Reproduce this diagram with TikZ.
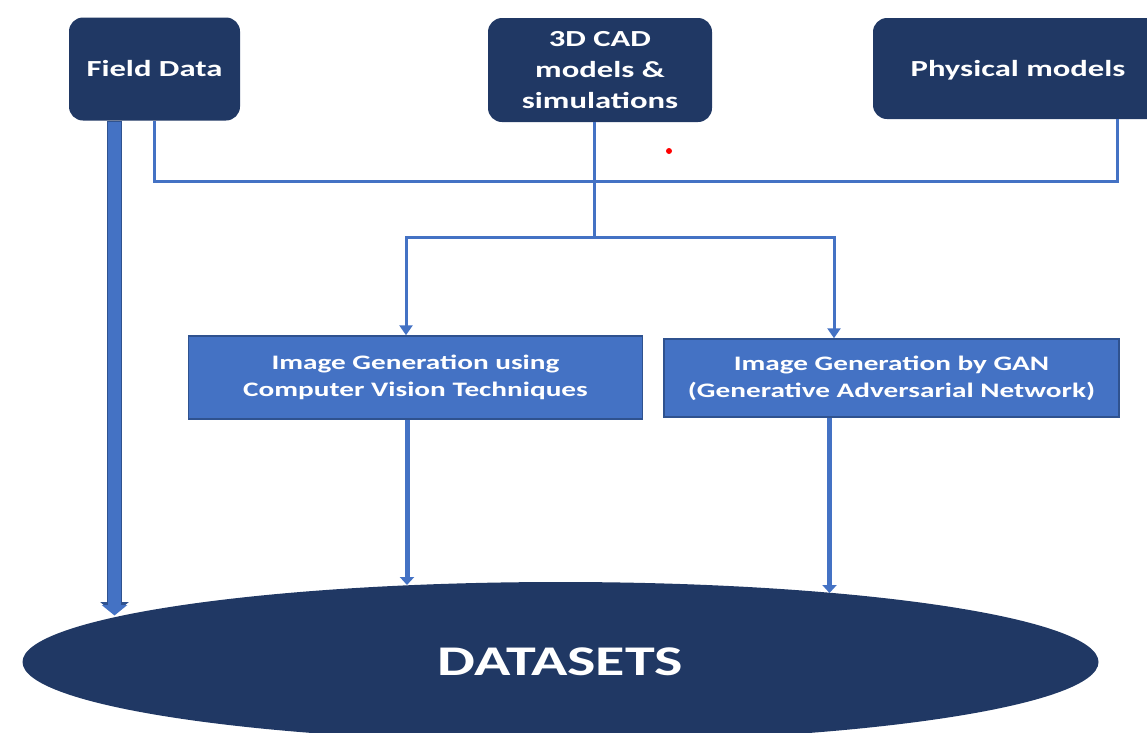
\documentclass[tikz,border=0pt]{standalone}
\usepackage{fontspec}
\setmainfont{Carlito}[FakeStretch=1.42]
\usetikzlibrary{arrows.meta,shapes.geometric}
\definecolor{navy}{HTML}{203864}
\definecolor{mblue}{HTML}{4472C4}
\definecolor{bedge}{HTML}{2F528F}
\tikzset{
  srcbox/.style={fill=navy, rounded corners=14pt, text=white, align=center,
    inner sep=0pt, font=\fontsize{23}{31}\selectfont\bfseries},
  genbox/.style={fill=mblue, draw=bedge, line width=1.5pt, text=white, align=center,
    inner sep=0pt, font=\fontsize{20.6}{27}\selectfont\bfseries},
  link/.style={mblue, line width=3pt},
  feed/.style={mblue, line width=5pt, -{Triangle[width=14pt,length=8pt]}},
  bigfeededge/.style={bedge, line width=15pt, -{Triangle[width=28pt,length=12pt]}},
  bigfeed/.style={mblue, line width=13pt, -{Triangle[width=25pt,length=10.5pt]}},
}
\begin{document}
\begin{tikzpicture}[x=1pt,y=-1pt]
\useasboundingbox (0,0) rectangle (1147,732);
\clip (0,0) rectangle (1147,732);

% sources
\node[srcbox, minimum width=171pt, minimum height=103pt] (fd) at (154.5,69) {Field Data};
\node[srcbox, minimum width=224pt, minimum height=104pt] (cad) at (600,70) {3D CAD\\models \&\\simulations};
\node[srcbox, text depth=0pt, minimum width=290pt, minimum height=101pt] (phys) at (1018,68.5) {Physical models};

% generators
\node[genbox, minimum width=454pt, minimum height=83pt] (cv) at (415.5,377.5) {Image Generation using\\Computer Vision Techniques};
\node[genbox, minimum width=455pt, minimum height=78pt] (gan) at (891.5,378) {Image Generation by GAN\\(Generative Adversarial Network)};

% target
\node[ellipse, fill=navy, inner sep=0pt, minimum width=1076pt, minimum height=160pt,
  text=white, font=\fontsize{42.3}{50}\selectfont\bfseries] (ds) at (560.5,662) {DATASETS};

% bus joining the three sources
\coordinate (bus) at (594,181);
\coordinate (split) at (594,237);
\coordinate (tapL) at (406,237);
\coordinate (tapR) at (834,237);
\draw[link] (fd.south) -- (fd.south |- bus) -| ([xshift=245pt]phys.south west);
\draw[link] (cad.south -| split) -- (split);
\draw[link, {Triangle[width=13pt,length=10pt]}-{Triangle[width=13pt,length=10pt]}]
  (tapL |- cv.north) -- (tapL) -- (tapR) -- (tapR |- gan.north);

% feeds into the datasets (ends sit on the ellipse rim)
\coordinate (inL) at (114.5,614);
\coordinate (inM) at (407,585);
\coordinate (inR) at (829.5,593);
\draw[bigfeededge] (inL |- fd.south) -- (inL);
\draw[bigfeed] ([yshift=-1pt]inL |- fd.south) -- ([yshift=-1.5pt]inL);
\draw[feed] (inM |- cv.south) -- (inM);
\draw[feed] (inR |- gan.south) -- (inR);

% marker dot
\fill[red] (669,151) circle[radius=3pt];
\end{tikzpicture}
\end{document}
